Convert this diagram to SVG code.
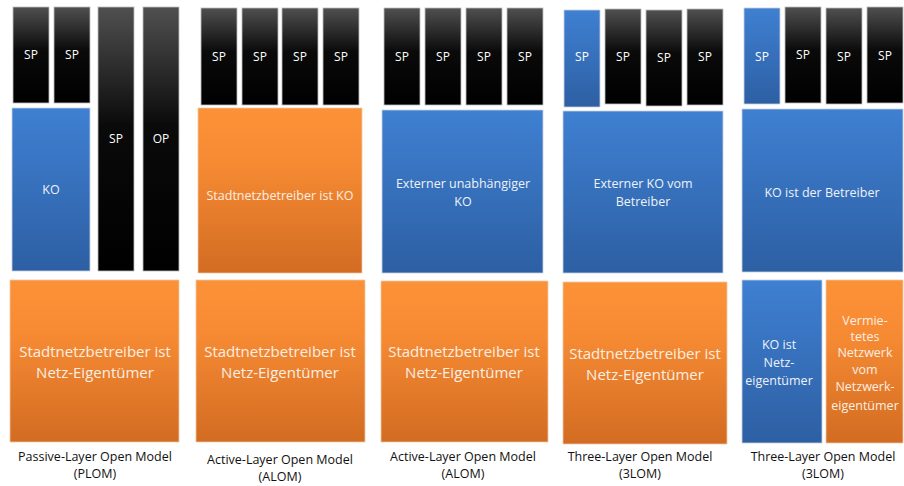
<svg xmlns="http://www.w3.org/2000/svg" width="904" height="486" viewBox="0 0 904 486">
<defs>
<linearGradient id="gBlack" x1="0" y1="0" x2="0" y2="1"><stop offset="0" stop-color="#505050"/><stop offset="0.45" stop-color="#0a0a0a"/><stop offset="1" stop-color="#000"/></linearGradient>
<linearGradient id="gBlue" x1="0" y1="0" x2="0" y2="1"><stop offset="0" stop-color="#3f80d2"/><stop offset="1" stop-color="#2d5fa3"/></linearGradient>
<linearGradient id="gOrange" x1="0" y1="0" x2="0" y2="1"><stop offset="0" stop-color="#fc9238"/><stop offset="0.35" stop-color="#f68a33"/><stop offset="1" stop-color="#d26c22"/></linearGradient>
<style>
.blk{fill:url(#gBlack);stroke:#bdbdbd;stroke-width:0.8}
.blu{fill:url(#gBlue);stroke:#c9d3e0;stroke-width:0.8}
.org{fill:url(#gOrange);stroke:#f0c8a8;stroke-width:0.8}
text{font-family:"Open Sans","Liberation Sans",sans-serif;text-anchor:middle}
.sp{font-size:12px;fill:#fff}
.in{font-size:12.5px;fill:#eef2f8}
.io{font-size:12.5px;fill:#fbeee2}
.big{font-size:15px;fill:#fbeee2}
.cap{font-size:12.5px;fill:#111}
</style>
</defs>
<g id="col1">
<g id="c1-sp1"><rect class="blk" x="13" y="7" width="36" height="96"/><text class="sp" x="31" y="59">SP</text></g>
<g id="c1-sp2"><rect class="blk" x="54" y="7" width="36" height="96"/><text class="sp" x="72" y="59">SP</text></g>
<g id="c1-ko"><rect class="blu" x="12" y="108" width="78" height="163"/><text class="in" x="51" y="194">KO</text></g>
<g id="c1-sp3"><rect class="blk" x="98" y="7" width="36" height="264"/><text class="sp" x="116" y="143">SP</text></g>
<g id="c1-op"><rect class="blk" x="143" y="7" width="36" height="264"/><text class="sp" x="161" y="143">OP</text></g>
<g id="c1-owner"><rect class="org" x="10" y="280" width="169" height="162"/><text class="big" x="95" y="357">Stadtnetzbetreiber ist</text><text class="big" x="95" y="378">Netz-Eigentümer</text></g>
<g id="c1-cap"><text class="cap" x="95" y="461">Passive-Layer Open Model</text><text class="cap" x="95" y="478">(PLOM)</text></g>
</g>
<g id="col2">
<g id="c2-sp1"><rect class="blk" x="201" y="8" width="36" height="97"/><text class="sp" x="219" y="61">SP</text></g>
<g id="c2-sp2"><rect class="blk" x="242" y="8" width="36" height="97"/><text class="sp" x="260" y="61">SP</text></g>
<g id="c2-sp3"><rect class="blk" x="282" y="8" width="36" height="97"/><text class="sp" x="300" y="61">SP</text></g>
<g id="c2-sp4"><rect class="blk" x="323" y="8" width="36" height="97"/><text class="sp" x="341" y="61">SP</text></g>
<g id="c2-ko"><rect class="org" x="198" y="108" width="164" height="165"/><text class="io" x="280" y="200">Stadtnetzbetreiber ist KO</text></g>
<g id="c2-owner"><rect class="org" x="196" y="280" width="169" height="162"/><text class="big" x="280" y="357">Stadtnetzbetreiber ist</text><text class="big" x="280" y="378">Netz-Eigentümer</text></g>
<g id="c2-cap"><text class="cap" x="280" y="464">Active-Layer Open Model</text><text class="cap" x="280" y="481">(ALOM)</text></g>
</g>
<g id="col3">
<g id="c3-sp1"><rect class="blk" x="384" y="8" width="36" height="97"/><text class="sp" x="402" y="61">SP</text></g>
<g id="c3-sp2"><rect class="blk" x="425" y="8" width="36" height="97"/><text class="sp" x="443" y="61">SP</text></g>
<g id="c3-sp3"><rect class="blk" x="466" y="8" width="36" height="97"/><text class="sp" x="484" y="61">SP</text></g>
<g id="c3-sp4"><rect class="blk" x="507" y="8" width="36" height="97"/><text class="sp" x="525" y="61">SP</text></g>
<g id="c3-ko"><rect class="blu" x="382" y="110" width="161" height="163"/><text class="in" x="463" y="188">Externer unabhängiger</text><text class="in" x="463" y="206">KO</text></g>
<g id="c3-owner"><rect class="org" x="381" y="281" width="167" height="161"/><text class="big" x="464" y="357">Stadtnetzbetreiber ist</text><text class="big" x="464" y="378">Netz-Eigentümer</text></g>
<g id="c3-cap"><text class="cap" x="463" y="461">Active-Layer Open Model</text><text class="cap" x="463" y="478">(ALOM)</text></g>
</g>
<g id="col4">
<g id="c4-sp1"><rect class="blu" x="564" y="10" width="36" height="97"/><text class="sp" x="582" y="61">SP</text></g>
<g id="c4-sp2"><rect class="blk" x="605" y="9" width="36" height="95"/><text class="sp" x="623" y="61">SP</text></g>
<g id="c4-sp3"><rect class="blk" x="646" y="10" width="36" height="96"/><text class="sp" x="664" y="62">SP</text></g>
<g id="c4-sp4"><rect class="blk" x="687" y="9" width="36" height="96"/><text class="sp" x="705" y="61">SP</text></g>
<g id="c4-ko"><rect class="blu" x="563" y="111" width="160" height="162"/><text class="in" x="643" y="188">Externer KO vom</text><text class="in" x="643" y="206">Betreiber</text></g>
<g id="c4-owner"><rect class="org" x="563" y="282" width="164" height="162"/><text class="big" x="645" y="359">Stadtnetzbetreiber ist</text><text class="big" x="645" y="380">Netz-Eigentümer</text></g>
<g id="c4-cap"><text class="cap" x="640" y="461">Three-Layer Open Model</text><text class="cap" x="640" y="478">(3LOM)</text></g>
</g>
<g id="col5">
<g id="c5-sp1"><rect class="blu" x="744" y="8" width="36" height="96"/><text class="sp" x="762" y="61">SP</text></g>
<g id="c5-sp2"><rect class="blk" x="785" y="7" width="36" height="96"/><text class="sp" x="803" y="59">SP</text></g>
<g id="c5-sp3"><rect class="blk" x="826" y="8" width="36" height="96"/><text class="sp" x="844" y="61">SP</text></g>
<g id="c5-sp4"><rect class="blk" x="867" y="7" width="36" height="96"/><text class="sp" x="885" y="60">SP</text></g>
<g id="c5-ko"><rect class="blu" x="742" y="109" width="161" height="163"/><text class="in" x="822" y="197">KO ist der Betreiber</text></g>
<g id="c5-owner"><rect class="blu" x="742" y="280" width="80" height="163"/><text class="in" x="779" y="349">KO ist</text><text class="in" x="779" y="367">Netz-</text><text class="in" x="779" y="385">eigentümer</text></g>
<g id="c5-rent"><rect class="org" x="826" y="280" width="77" height="163"/><text class="io" x="865" y="325">Vermie-</text><text class="io" x="865" y="341">tetes</text><text class="io" x="865" y="357">Netzwerk</text><text class="io" x="865" y="374">vom</text><text class="io" x="865" y="391">Netzwerk-</text><text class="io" x="865" y="410">eigentümer</text></g>
<g id="c5-cap"><text class="cap" x="823" y="461">Three-Layer Open Model</text><text class="cap" x="823" y="478">(3LOM)</text></g>
</g>
<g id="connectors"/>
</svg>
